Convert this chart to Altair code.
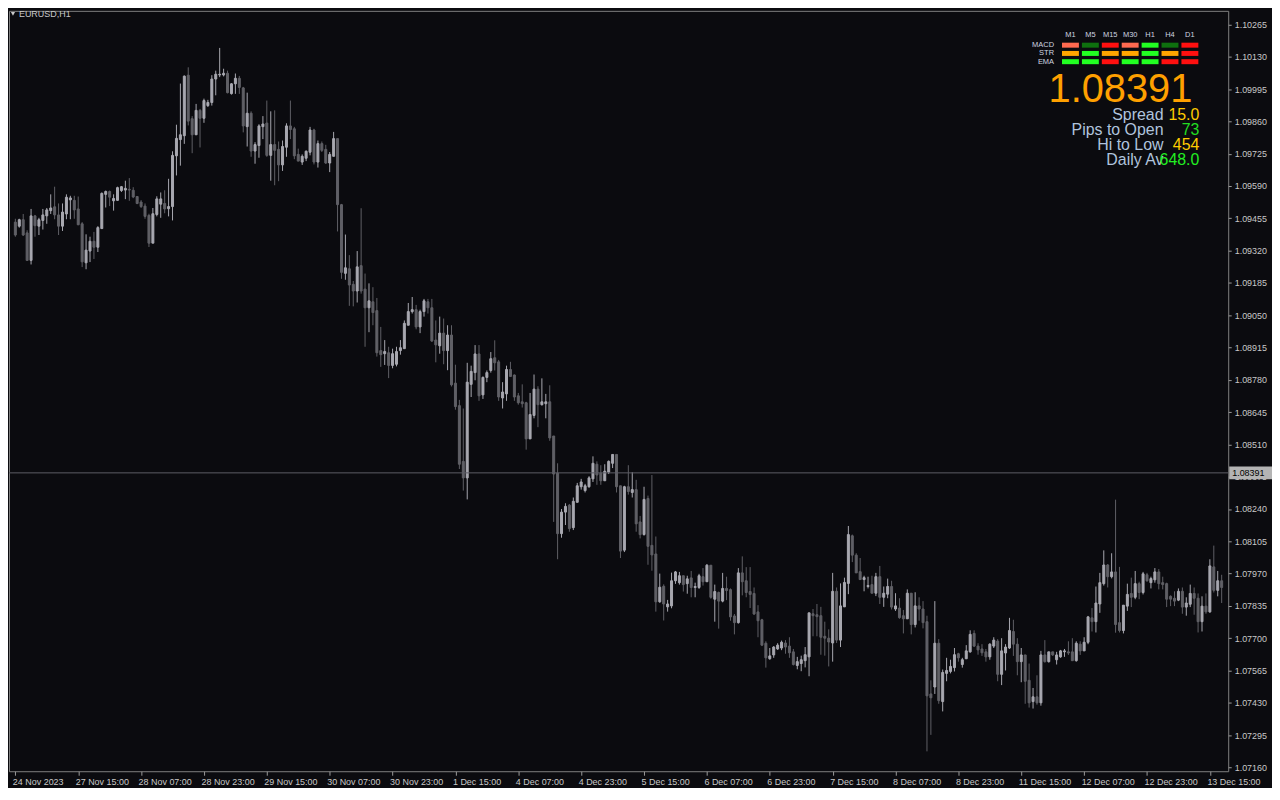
import altair as alt
import pandas as pd

# ---------------- data (EURUSD H1) ----------------
opens = [
    1.09439, 1.09422, 1.09449, 1.09394, 1.09279, 1.09465, 1.09422, 1.09446, 1.09465, 1.09487,
    1.09503, 1.09469, 1.09422, 1.09473, 1.09532, 1.09530, 1.09494, 1.09432, 1.09269, 1.09318,
    1.09359, 1.09334, 1.09412, 1.09555, 1.09567, 1.09528, 1.09530, 1.09571, 1.09573, 1.09576,
    1.09572, 1.09546, 1.09523, 1.09506, 1.09467, 1.09351, 1.09471, 1.09514, 1.09517, 1.09495,
    1.09504, 1.09716, 1.09784, 1.09800, 1.10053, 1.09871, 1.09804, 1.09906, 1.09873, 1.09926,
    1.09939, 1.10037, 1.10054, 1.10054, 1.10061, 1.09976, 1.10017, 1.10040, 1.10000, 1.09838,
    1.09894, 1.09736, 1.09759, 1.09838, 1.09853, 1.09718, 1.09763, 1.09743, 1.09678, 1.09752,
    1.09841, 1.09829, 1.09722, 1.09690, 1.09706, 1.09731, 1.09824, 1.09690, 1.09767, 1.09743,
    1.09686, 1.09714, 1.09788, 1.09512, 1.09225, 1.09244, 1.09179, 1.09151, 1.09257, 1.09159,
    1.09081, 1.09106, 1.09069, 1.08902, 1.08889, 1.08893, 1.08840, 1.08845, 1.08902, 1.08910,
    1.09008, 1.09065, 1.09073, 1.09001, 1.09065, 1.09106, 1.09081, 1.08946, 1.08922, 1.08975,
    1.08902, 1.08967, 1.08766, 1.08672, 1.08439, 1.08370, 1.08761, 1.08810, 1.08888, 1.08717,
    1.08790, 1.08819, 1.08872, 1.08855, 1.08704, 1.08721, 1.08823, 1.08800, 1.08713, 1.08688,
    1.08684, 1.08533, 1.08631, 1.08741, 1.08676, 1.08680, 1.08688, 1.08545, 1.08390, 1.08137,
    1.08227, 1.08256, 1.08162, 1.08268, 1.08333, 1.08317, 1.08333, 1.08366, 1.08427, 1.08390,
    1.08358, 1.08394, 1.08431, 1.08468, 1.08337, 1.08068, 1.08333, 1.08309, 1.08321, 1.08186,
    1.08133, 1.08284, 1.08088, 1.08052, 1.07852, 1.07917, 1.07831, 1.07835, 1.07940, 1.07932,
    1.07961, 1.07928, 1.07952, 1.07912, 1.07912, 1.07957, 1.07936, 1.08005, 1.07863, 1.07891,
    1.07855, 1.07908, 1.07903, 1.07793, 1.07765, 1.07973, 1.07940, 1.07895, 1.07887, 1.07810,
    1.07777, 1.07679, 1.07614, 1.07630, 1.07655, 1.07659, 1.07680, 1.07667, 1.07643, 1.07586,
    1.07594, 1.07606, 1.07622, 1.07802, 1.07798, 1.07794, 1.07708, 1.07700, 1.07680, 1.07896,
    1.07692, 1.07831, 1.07929, 1.08128, 1.08047, 1.07978, 1.07945, 1.07916, 1.07924, 1.07888,
    1.07957, 1.07871, 1.07884, 1.07916, 1.07822, 1.07826, 1.07794, 1.07781, 1.07888, 1.07757,
    1.07835, 1.07822, 1.07769, 1.07467, 1.07496, 1.07679, 1.07435, 1.07553, 1.07561, 1.07577,
    1.07635, 1.07590, 1.07614, 1.07643, 1.07720, 1.07667, 1.07655, 1.07643, 1.07622, 1.07667,
    1.07688, 1.07549, 1.07638, 1.07659, 1.07728, 1.07675, 1.07602, 1.07630, 1.07524, 1.07435,
    1.07455, 1.07430, 1.07630, 1.07602, 1.07643, 1.07610, 1.07622, 1.07643, 1.07643, 1.07643,
    1.07606, 1.07675, 1.07647, 1.07683, 1.07785, 1.07769, 1.07843, 1.07928, 1.08006, 1.07957,
    1.07977, 1.07765, 1.07732, 1.07834, 1.07887, 1.07871, 1.07928, 1.07891, 1.07965, 1.07932,
    1.07944, 1.07977, 1.07932, 1.07928, 1.07875, 1.07867, 1.07859, 1.07896, 1.07830, 1.07842,
    1.07887, 1.07867, 1.07769, 1.07834, 1.07810, 1.07998, 1.07900, 1.07940,
]
highs = [
    1.09453, 1.09453, 1.09473, 1.09405, 1.09494, 1.09469, 1.09457, 1.09494, 1.09498, 1.09555,
    1.09587, 1.09517, 1.09517, 1.09555, 1.09549, 1.09549, 1.09546, 1.09439, 1.09388, 1.09378,
    1.09398, 1.09422, 1.09563, 1.09571, 1.09571, 1.09555, 1.09587, 1.09590, 1.09612, 1.09623,
    1.09585, 1.09546, 1.09531, 1.09517, 1.09474, 1.09498, 1.09547, 1.09563, 1.09572, 1.09620,
    1.09735, 1.09846, 1.10018, 1.10052, 1.10086, 1.09882, 1.09933, 1.09912, 1.09955, 1.09950,
    1.10053, 1.10072, 1.10167, 1.10080, 1.10072, 1.10020, 1.10060, 1.10050, 1.10004, 1.09980,
    1.09902, 1.09773, 1.09848, 1.09882, 1.09947, 1.09902, 1.09906, 1.09776, 1.09780, 1.09852,
    1.09947, 1.09837, 1.09746, 1.09722, 1.09739, 1.09837, 1.09829, 1.09780, 1.09776, 1.09762,
    1.09732, 1.09816, 1.09788, 1.09515, 1.09387, 1.09301, 1.09193, 1.09318, 1.09497, 1.09224,
    1.09183, 1.09167, 1.09122, 1.09001, 1.08946, 1.08918, 1.08910, 1.08918, 1.08946, 1.09028,
    1.09101, 1.09126, 1.09093, 1.09073, 1.09118, 1.09118, 1.09118, 1.09028, 1.09044, 1.09036,
    1.09008, 1.09008, 1.08843, 1.08696, 1.08660, 1.08851, 1.08839, 1.08925, 1.08925, 1.08794,
    1.08819, 1.08896, 1.08945, 1.08863, 1.08770, 1.08839, 1.08855, 1.08802, 1.08725, 1.08761,
    1.08688, 1.08725, 1.08802, 1.08753, 1.08786, 1.08721, 1.08757, 1.08545, 1.08431, 1.08240,
    1.08264, 1.08261, 1.08288, 1.08349, 1.08366, 1.08345, 1.08377, 1.08460, 1.08439, 1.08423,
    1.08427, 1.08443, 1.08468, 1.08468, 1.08337, 1.08337, 1.08423, 1.08394, 1.08362, 1.08211,
    1.08333, 1.08296, 1.08382, 1.08125, 1.07970, 1.07925, 1.07860, 1.07974, 1.07981, 1.07977,
    1.07961, 1.07961, 1.07981, 1.07932, 1.07969, 1.07993, 1.08010, 1.08005, 1.07924, 1.07895,
    1.07973, 1.07957, 1.07908, 1.07801, 1.07993, 1.08042, 1.07997, 1.07997, 1.07912, 1.07838,
    1.07781, 1.07687, 1.07659, 1.07667, 1.07679, 1.07690, 1.07692, 1.07704, 1.07655, 1.07622,
    1.07627, 1.07663, 1.07806, 1.07822, 1.07843, 1.07831, 1.07769, 1.07737, 1.07973, 1.07912,
    1.07929, 1.07953, 1.08169, 1.08133, 1.08055, 1.08035, 1.07961, 1.07957, 1.07961, 1.07973,
    1.08002, 1.07916, 1.07949, 1.07940, 1.07888, 1.07867, 1.07818, 1.07904, 1.07888, 1.07892,
    1.07871, 1.07855, 1.07794, 1.07524, 1.07855, 1.07696, 1.07569, 1.07618, 1.07610, 1.07659,
    1.07639, 1.07618, 1.07671, 1.07733, 1.07733, 1.07679, 1.07675, 1.07655, 1.07679, 1.07704,
    1.07696, 1.07700, 1.07675, 1.07785, 1.07777, 1.07700, 1.07659, 1.07630, 1.07594, 1.07492,
    1.07545, 1.07647, 1.07692, 1.07643, 1.07643, 1.07643, 1.07651, 1.07655, 1.07687, 1.07700,
    1.07687, 1.07687, 1.07704, 1.07793, 1.07826, 1.07916, 1.07973, 1.08067, 1.08010, 1.08055,
    1.08279, 1.07998, 1.07838, 1.07928, 1.07953, 1.07981, 1.07936, 1.07977, 1.07973, 1.07957,
    1.07993, 1.07989, 1.07957, 1.07932, 1.07879, 1.07896, 1.07908, 1.07912, 1.07871, 1.07924,
    1.07912, 1.07887, 1.07875, 1.07887, 1.08030, 1.08087, 1.07981, 1.07965,
]
lows = [
    1.09378, 1.09416, 1.09381, 1.09279, 1.09262, 1.09378, 1.09385, 1.09408, 1.09432, 1.09473,
    1.09451, 1.09385, 1.09402, 1.09451, 1.09451, 1.09453, 1.09426, 1.09251, 1.09242, 1.09272,
    1.09285, 1.09314, 1.09410, 1.09500, 1.09506, 1.09487, 1.09528, 1.09565, 1.09535, 1.09528,
    1.09539, 1.09514, 1.09498, 1.09453, 1.09335, 1.09351, 1.09463, 1.09457, 1.09476, 1.09463,
    1.09446, 1.09634, 1.09675, 1.09766, 1.09843, 1.09727, 1.09804, 1.09751, 1.09854, 1.09920,
    1.09926, 1.09969, 1.10045, 1.10048, 1.09977, 1.09972, 1.09975, 1.09975, 1.09814, 1.09755,
    1.09712, 1.09683, 1.09708, 1.09786, 1.09712, 1.09612, 1.09593, 1.09610, 1.09653, 1.09712,
    1.09786, 1.09702, 1.09694, 1.09678, 1.09694, 1.09718, 1.09680, 1.09667, 1.09732, 1.09682,
    1.09648, 1.09714, 1.09400, 1.09202, 1.09198, 1.09089, 1.09087, 1.09103, 1.09140, 1.08918,
    1.08979, 1.09008, 1.08877, 1.08834, 1.08842, 1.08787, 1.08828, 1.08836, 1.08885, 1.08910,
    1.09008, 1.09057, 1.08991, 1.08975, 1.09044, 1.09057, 1.08938, 1.08853, 1.08889, 1.08845,
    1.08820, 1.08752, 1.08655, 1.08407, 1.08317, 1.08280, 1.08708, 1.08778, 1.08692, 1.08700,
    1.08770, 1.08810, 1.08819, 1.08692, 1.08660, 1.08692, 1.08794, 1.08692, 1.08676, 1.08664,
    1.08488, 1.08533, 1.08619, 1.08582, 1.08672, 1.08619, 1.08525, 1.08186, 1.08030, 1.08120,
    1.08173, 1.08145, 1.08152, 1.08268, 1.08321, 1.08309, 1.08329, 1.08353, 1.08341, 1.08341,
    1.08358, 1.08386, 1.08411, 1.08309, 1.08035, 1.08060, 1.08300, 1.08288, 1.08145, 1.08117,
    1.08129, 1.08007, 1.07982, 1.07811, 1.07848, 1.07774, 1.07811, 1.07825, 1.07927, 1.07924,
    1.07895, 1.07886, 1.07871, 1.07871, 1.07906, 1.07920, 1.07936, 1.07865, 1.07769, 1.07740,
    1.07850, 1.07859, 1.07773, 1.07716, 1.07761, 1.07879, 1.07871, 1.07826, 1.07797, 1.07704,
    1.07667, 1.07577, 1.07610, 1.07618, 1.07651, 1.07650, 1.07635, 1.07618, 1.07586, 1.07570,
    1.07562, 1.07578, 1.07541, 1.07708, 1.07708, 1.07631, 1.07627, 1.07582, 1.07602, 1.07680,
    1.07663, 1.07831, 1.07884, 1.08018, 1.07973, 1.07945, 1.07896, 1.07908, 1.07888, 1.07876,
    1.07843, 1.07831, 1.07867, 1.07820, 1.07814, 1.07781, 1.07720, 1.07781, 1.07716, 1.07745,
    1.07773, 1.07741, 1.07227, 1.07296, 1.07467, 1.07426, 1.07394, 1.07520, 1.07553, 1.07561,
    1.07602, 1.07577, 1.07614, 1.07639, 1.07663, 1.07631, 1.07626, 1.07602, 1.07610, 1.07659,
    1.07520, 1.07504, 1.07565, 1.07655, 1.07626, 1.07545, 1.07516, 1.07426, 1.07410, 1.07406,
    1.07422, 1.07418, 1.07598, 1.07598, 1.07626, 1.07590, 1.07618, 1.07622, 1.07630, 1.07606,
    1.07602, 1.07630, 1.07647, 1.07675, 1.07728, 1.07724, 1.07806, 1.07920, 1.07912, 1.07950,
    1.07723, 1.07724, 1.07720, 1.07814, 1.07830, 1.07863, 1.07863, 1.07883, 1.07936, 1.07908,
    1.07932, 1.07904, 1.07904, 1.07830, 1.07834, 1.07834, 1.07855, 1.07802, 1.07794, 1.07830,
    1.07798, 1.07724, 1.07728, 1.07802, 1.07806, 1.07891, 1.07875, 1.07847,
]
closes = [
    1.09385, 1.09449, 1.09385, 1.09279, 1.09465, 1.09424, 1.09449, 1.09469, 1.09490, 1.09498,
    1.09469, 1.09422, 1.09481, 1.09543, 1.09540, 1.09490, 1.09428, 1.09273, 1.09322, 1.09359,
    1.09334, 1.09416, 1.09559, 1.09567, 1.09543, 1.09538, 1.09583, 1.09587, 1.09580, 1.09573,
    1.09544, 1.09517, 1.09504, 1.09463, 1.09351, 1.09474, 1.09536, 1.09536, 1.09494, 1.09504,
    1.09718, 1.09789, 1.09804, 1.10049, 1.09861, 1.09804, 1.09906, 1.09873, 1.09947, 1.09939,
    1.10037, 1.10057, 1.10057, 1.10061, 1.09980, 1.10017, 1.10040, 1.10002, 1.09841, 1.09894,
    1.09736, 1.09763, 1.09841, 1.09849, 1.09718, 1.09763, 1.09739, 1.09678, 1.09755, 1.09841,
    1.09826, 1.09716, 1.09694, 1.09714, 1.09735, 1.09824, 1.09690, 1.09767, 1.09739, 1.09686,
    1.09722, 1.09788, 1.09512, 1.09229, 1.09248, 1.09176, 1.09151, 1.09252, 1.09151, 1.09081,
    1.09110, 1.09061, 1.08893, 1.08885, 1.08898, 1.08840, 1.08889, 1.08898, 1.08914, 1.09016,
    1.09065, 1.09073, 1.09001, 1.09065, 1.09110, 1.09081, 1.08942, 1.08926, 1.08975, 1.08902,
    1.08967, 1.08759, 1.08668, 1.08427, 1.08370, 1.08770, 1.08815, 1.08888, 1.08713, 1.08790,
    1.08810, 1.08868, 1.08851, 1.08708, 1.08729, 1.08823, 1.08794, 1.08708, 1.08684, 1.08680,
    1.08533, 1.08635, 1.08741, 1.08676, 1.08688, 1.08688, 1.08537, 1.08386, 1.08137, 1.08227,
    1.08251, 1.08158, 1.08272, 1.08337, 1.08353, 1.08337, 1.08370, 1.08431, 1.08382, 1.08358,
    1.08398, 1.08439, 1.08468, 1.08333, 1.08064, 1.08333, 1.08313, 1.08321, 1.08178, 1.08133,
    1.08280, 1.08084, 1.08048, 1.07852, 1.07913, 1.07843, 1.07843, 1.07940, 1.07977, 1.07961,
    1.07924, 1.07948, 1.07912, 1.07916, 1.07961, 1.07936, 1.08005, 1.07871, 1.07895, 1.07855,
    1.07908, 1.07899, 1.07789, 1.07765, 1.07973, 1.07936, 1.07891, 1.07883, 1.07801, 1.07773,
    1.07671, 1.07618, 1.07626, 1.07663, 1.07671, 1.07683, 1.07663, 1.07639, 1.07590, 1.07602,
    1.07610, 1.07631, 1.07806, 1.07794, 1.07790, 1.07704, 1.07700, 1.07684, 1.07896, 1.07692,
    1.07835, 1.07933, 1.08133, 1.08047, 1.07973, 1.07945, 1.07953, 1.07920, 1.07888, 1.07957,
    1.07871, 1.07888, 1.07916, 1.07830, 1.07835, 1.07786, 1.07781, 1.07888, 1.07757, 1.07835,
    1.07822, 1.07765, 1.07459, 1.07451, 1.07679, 1.07439, 1.07557, 1.07565, 1.07582, 1.07631,
    1.07618, 1.07610, 1.07647, 1.07716, 1.07667, 1.07651, 1.07639, 1.07622, 1.07675, 1.07692,
    1.07549, 1.07647, 1.07663, 1.07732, 1.07675, 1.07602, 1.07630, 1.07520, 1.07430, 1.07455,
    1.07430, 1.07630, 1.07602, 1.07643, 1.07630, 1.07630, 1.07647, 1.07647, 1.07638, 1.07606,
    1.07679, 1.07647, 1.07683, 1.07789, 1.07769, 1.07847, 1.07932, 1.08006, 1.07957, 1.07977,
    1.07757, 1.07732, 1.07838, 1.07883, 1.07871, 1.07928, 1.07891, 1.07969, 1.07940, 1.07949,
    1.07977, 1.07928, 1.07924, 1.07863, 1.07863, 1.07855, 1.07896, 1.07830, 1.07847, 1.07887,
    1.07867, 1.07769, 1.07834, 1.07810, 1.08002, 1.07900, 1.07940, 1.07912,
]

x_labels = ["24 Nov 2023", "27 Nov 15:00", "28 Nov 07:00", "28 Nov 23:00", "29 Nov 15:00",
            "30 Nov 07:00", "30 Nov 23:00", "1 Dec 15:00", "4 Dec 07:00", "4 Dec 23:00",
            "5 Dec 15:00", "6 Dec 07:00", "6 Dec 23:00", "7 Dec 15:00", "8 Dec 07:00",
            "8 Dec 23:00", "11 Dec 15:00", "12 Dec 07:00", "12 Dec 23:00", "13 Dec 15:00"]
price_ticks = [1.07160, 1.07295, 1.07430, 1.07565, 1.07700, 1.07835, 1.07970, 1.08105,
               1.08240, 1.08375, 1.08510, 1.08645, 1.08780, 1.08915, 1.09050, 1.09185,
               1.09320, 1.09455, 1.09590, 1.09725, 1.09860, 1.09995, 1.10130, 1.10265]
bid_price = [1.08391]

tf_labels = ["M1", "M5", "M15", "M30", "H1", "H4", "D1"]
ind_rows = ["MACD", "STR", "EMA"]
macd_colors = ["#ff6a50", "#0e700e", "#ff1010", "#ff6a50", "#22ff22", "#0e700e", "#ff1010"]
str_colors = ["#ffa500", "#22ff22", "#ffa500", "#ffa500", "#22ff22", "#ffa500", "#ff1010"]
ema_colors = ["#22ff22", "#22ff22", "#ff1010", "#22ff22", "#22ff22", "#ff1010", "#ff1010"]
info_names = ["Spread", "Pips to Open", "Hi to Low", "Daily Av"]
info_values = ["15.0", "73", "454", "648.0"]
info_colors = ["#ffcc00", "#22dd22", "#ffcc00", "#22ee22"]
symbol_title = "EURUSD,H1"

# ---------------- chart ----------------
N = len(opens)
df = pd.DataFrame({"i": list(range(N)), "open": opens, "high": highs,
                   "low": lows, "close": closes})
df["dir"] = ["up" if c >= o else "down" for o, c in zip(opens, closes)]

W, H = 1225, 764
BG = "#0b0b0f"
BULL = "#a8a8b0"
BEAR = "#606066"
TXT = "#c8c8c8"
FONT = "Liberation Sans"

xscale = alt.Scale(domain=[-0.35, N - 0.6], nice=False, zero=False)
yscale = alt.Scale(domain=[1.07144, 1.10322], nice=False, zero=False)
dir_scale = alt.Scale(domain=["up", "down"], range=[BULL, BEAR])

label_js = "[" + ",".join("'" + s + "'" for s in x_labels) + "]"
xaxis = alt.Axis(values=list(range(0, 16 * len(x_labels), 16)),
                 labelExpr=label_js + "[round(datum.value/16)]",
                 title=None, labelAlign="left", labelFlush=False, labelOverlap=False,
                 tickSize=4, tickColor="#9a9a9a", labelColor=TXT, labelFont=FONT,
                 labelFontSize=9, domain=False, grid=False, labelPadding=2, labelOffset=-3)
yaxis = alt.Axis(orient="right", values=price_ticks, format=".5f", title=None,
                 tickSize=3, tickColor="#9a9a9a", labelColor=TXT, labelFont=FONT,
                 labelFontSize=9, domain=False, grid=False, labelPadding=3,
                 labelOverlap=False, labelFlush=False)

base = alt.Chart(df).encode(x=alt.X("i:Q", scale=xscale, axis=xaxis))
wicks = base.mark_rule(strokeWidth=1).encode(
    y=alt.Y("low:Q", scale=yscale, axis=yaxis), y2="high:Q",
    color=alt.Color("dir:N", scale=dir_scale, legend=None))
bodies = base.mark_bar(size=2, strokeWidth=1).encode(
    y=alt.Y("open:Q", axis=yaxis), y2="close:Q",
    fill=alt.Fill("dir:N", scale=dir_scale, legend=None),
    stroke=alt.Stroke("dir:N", scale=dir_scale, legend=None))

bid_df = pd.DataFrame({"p": bid_price})
bid_line = alt.Chart(bid_df).mark_rule(color="#5c5c66", strokeWidth=1).encode(
    y=alt.Y("p:Q", axis=yaxis))
bid_box = alt.Chart(bid_df).transform_calculate(
    top="datum.p + 0.00027", bot="datum.p - 0.00027"
).mark_rect(color="#b4b4b4").encode(
    x=alt.value(W + 1), x2=alt.value(W + 44),
    y=alt.Y("top:Q", axis=yaxis), y2="bot:Q")
bid_text = alt.Chart(bid_df).mark_text(
    align="left", baseline="middle", font=FONT, fontSize=9, color="#000000"
).encode(x=alt.value(W + 4), y=alt.Y("p:Q", axis=yaxis),
         text=alt.Text("p:Q", format=".5f"))

# title
title_tri = alt.Chart(pd.DataFrame({"t": [symbol_title]})).mark_point(
    shape="triangle-down", size=18, filled=True, color=TXT, opacity=1
).encode(x=alt.value(4), y=alt.value(3))
title_txt = alt.Chart(pd.DataFrame({"t": [symbol_title]})).mark_text(
    align="left", baseline="alphabetic", font=FONT, fontSize=9, color=TXT
).encode(x=alt.value(10), y=alt.value(6), text="t:N")

# indicator panel
cells = pd.DataFrame({
    "c": list(range(len(tf_labels))) * 3,
    "r": [0] * 7 + [1] * 7 + [2] * 7,
    "col": macd_colors + str_colors + ema_colors,
})
cell_layer = alt.Chart(cells).transform_calculate(
    x0="1058 + 20*datum.c", x1="1075 + 20*datum.c",
    y0="32 + 8.3*datum.r", y1="37 + 8.3*datum.r"
).mark_rect().encode(
    x=alt.X("x0:Q", scale=None), x2="x1:Q",
    y=alt.Y("y0:Q", scale=None), y2="y1:Q",
    color=alt.Color("col:N", scale=None))
tf_df = pd.DataFrame({"lab": tf_labels, "c": list(range(len(tf_labels)))})
tf_layer = alt.Chart(tf_df).transform_calculate(px="1066.5 + 20*datum.c").mark_text(
    align="center", baseline="middle", font=FONT, fontSize=7.5, color="#d0d6e0"
).encode(x=alt.X("px:Q", scale=None), y=alt.value(24), text="lab:N")
row_df = pd.DataFrame({"lab": ind_rows, "r": list(range(len(ind_rows)))})
row_layer = alt.Chart(row_df).transform_calculate(py="34.5 + 8.3*datum.r").mark_text(
    align="right", baseline="middle", font=FONT, fontSize=7.5, color="#d0d6e0"
).encode(x=alt.value(1050), y=alt.Y("py:Q", scale=None), text="lab:N")

big_price = alt.Chart(bid_df).mark_text(
    align="right", baseline="alphabetic", font=FONT, fontSize=40, color="#ffa000"
).encode(x=alt.value(1189), y=alt.value(92), text=alt.Text("p:Q", format=".5f"))

info_df = pd.DataFrame({"name": info_names, "val": info_values, "vcol": info_colors,
                        "k": list(range(len(info_names)))})
info_names_layer = alt.Chart(info_df).transform_calculate(py="110 + 15*datum.k").mark_text(
    align="right", baseline="alphabetic", font=FONT, fontSize=16, color="#b0c4de"
).encode(x=alt.value(1160), y=alt.Y("py:Q", scale=None), text="name:N")
info_vals_layer = alt.Chart(info_df).transform_calculate(py="110 + 15*datum.k").mark_text(
    align="right", baseline="alphabetic", font=FONT, fontSize=16
).encode(x=alt.value(1196), y=alt.Y("py:Q", scale=None), text="val:N",
         color=alt.Color("vcol:N", scale=None))

chart = alt.layer(
    wicks, bodies, bid_line, bid_box, bid_text, title_tri, title_txt,
    cell_layer, tf_layer, row_layer, big_price, info_names_layer, info_vals_layer
).properties(
    width=W, height=H, padding=0, background=BG
).configure_view(
    stroke="#808080", strokeWidth=1, fill=BG
)

chart.save("out.html", embed_options={"renderer": "svg", "actions": False})
